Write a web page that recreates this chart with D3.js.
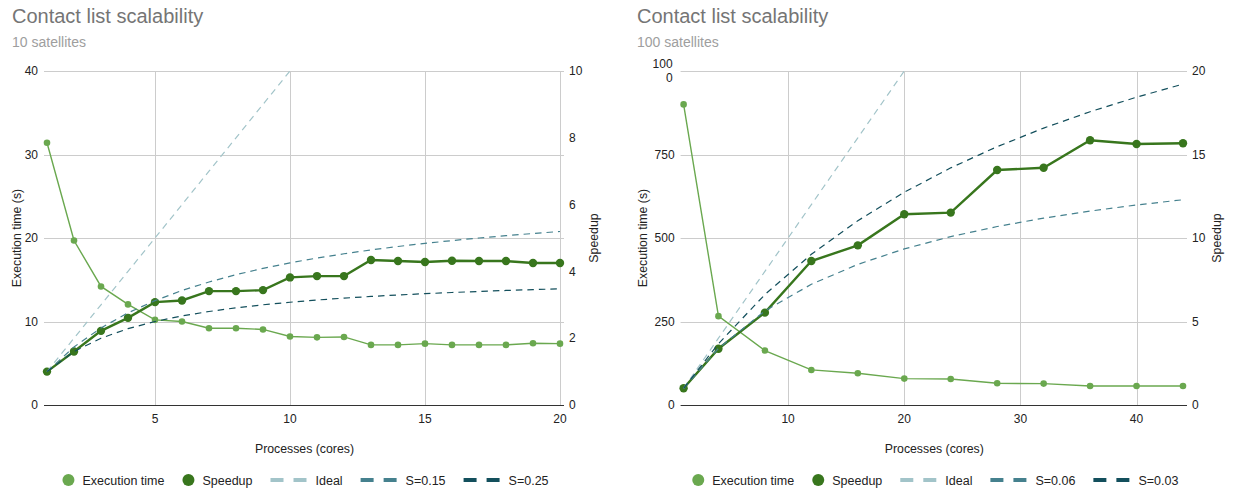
<!DOCTYPE html>
<html>
<head>
<meta charset="utf-8">
<script src="https://cdn.jsdelivr.net/npm/d3@7"></script>
<style>
  html, body { margin: 0; padding: 0; background: #fff; }
  svg { display: block; font-family: Arial, "Liberation Sans", sans-serif; }
</style>
</head>
<body>
<svg id="chart" width="1233" height="489"></svg>
<script>
// ---- 10 satellites ----
const procsA = [1,2,3,4,5,6,7,8,9,10,11,12,13,14,15,16,17,18,19,20];
const execA = [31.4,19.7,14.2,12.05,10.2,10.0,9.2,9.2,9.05,8.2,8.1,8.15,7.2,7.2,7.35,7.2,7.2,7.2,7.4,7.35];
const speedA = [1.0,1.6,2.22,2.61,3.08,3.13,3.41,3.41,3.44,3.82,3.86,3.86,4.34,4.31,4.28,4.32,4.31,4.31,4.25,4.25];
const idealA = [1,2,3,4,5,6,7,8,9,10,11,12,13,14,15,16,17,18,19,20];
const s015A = [1.0,1.739,2.308,2.759,3.125,3.429,3.684,3.902,4.091,4.255,4.4,4.528,4.643,4.746,4.839,4.923,5.0,5.07,5.135,5.195];
const s025A = [1.0,1.6,2.0,2.286,2.5,2.667,2.8,2.909,3.0,3.077,3.143,3.2,3.25,3.294,3.333,3.368,3.4,3.429,3.455,3.478];
const xTicksA = [5,10,15,20];
const yTicksA = [0,10,20,30,40];
const y2TicksA = [0,2,4,6,8,10];

// ---- 100 satellites ----
const procsB = [1,4,8,12,16,20,24,28,32,36,40,44];
const execB = [900,266,163,105,95,79,78,65,64,57,57,57];
const speedB = [1.0,3.37,5.53,8.62,9.56,11.42,11.52,14.07,14.21,15.85,15.63,15.67];
const idealB = [1,4,8,12,16,20,24,28,32,36,40,44];
const s006B = [1.0,3.39,5.634,7.229,8.421,9.346,10.084,10.687,11.189,11.613,11.976,12.291];
const s003B = [1.0,3.67,6.612,9.023,11.034,12.739,14.201,15.47,16.58,17.561,18.433,19.214];
const xTicksB = [10,20,30,40];
const yTicksB = [0,250,500,750,1000];
const y2TicksB = [0,5,10,15,20];

const COL = {
  exec: "#6aa84f",
  speed: "#38761d",
  ideal: "#a2c4c9",
  mid: "#45818e",
  dark: "#134f5c",
  grid: "#cccccc",
  base: "#333333",
  tick: "#222222",
  title: "#757575",
  sub: "#9e9e9e"
};

const svg = d3.select("#chart");

function panel(cfg) {
  const g = svg.append("g");
  const x = d3.scaleLinear().domain(cfg.xDomain).range(cfg.xRange);
  const y = d3.scaleLinear().domain(cfg.yDomain).range([405, 71]);
  const y2 = d3.scaleLinear().domain(cfg.y2Domain).range([405, 71]);
  const [x0, x1] = cfg.xRange;

  // titles
  g.append("text").attr("x", cfg.titleX).attr("y", 23)
    .attr("font-size", 20).attr("fill", COL.title).text("Contact list scalability");
  g.append("text").attr("x", cfg.titleX).attr("y", 47)
    .attr("font-size", 14).attr("fill", COL.sub).text(cfg.subtitle);

  // horizontal gridlines
  g.append("g").selectAll("line").data(cfg.yTicks.filter(d => d !== 0)).join("line")
    .attr("x1", x0 - 3).attr("x2", x1 + 4)
    .attr("y1", d => Math.round(y(d)) + 0.5).attr("y2", d => Math.round(y(d)) + 0.5)
    .attr("stroke", COL.grid).attr("stroke-width", 1);

  // vertical gridlines
  g.append("g").selectAll("line").data(cfg.xTicks).join("line")
    .attr("x1", d => Math.round(x(d)) + 0.5).attr("x2", d => Math.round(x(d)) + 0.5)
    .attr("y1", 71).attr("y2", 405)
    .attr("stroke", COL.grid).attr("stroke-width", 1);

  // baseline
  g.append("line").attr("x1", x0 - 3).attr("x2", x1 + 4)
    .attr("y1", 405.5).attr("y2", 405.5).attr("stroke", COL.base).attr("stroke-width", 1);

  // left tick labels
  const lt = g.append("g").attr("font-size", 12).attr("fill", COL.tick).attr("text-anchor", "end");
  cfg.yTicks.forEach(d => {
    const label = cfg.yFormat(d);
    if (cfg.wrapLong && label.length > 3) {
      const t = lt.append("text").attr("x", x0 - 11);
      t.append("tspan").attr("x", x0 - 11).attr("y", y(d) - 3).text(label.slice(0, 3));
      t.append("tspan").attr("x", x0 - 11).attr("y", y(d) + 11).text(label.slice(3));
    } else {
      lt.append("text").attr("x", x0 - 9).attr("y", y(d)).attr("dy", "0.35em").text(label);
    }
  });

  // right tick labels
  g.append("g").attr("font-size", 12).attr("fill", COL.tick)
    .selectAll("text").data(cfg.y2Ticks).join("text")
    .attr("x", x1 + 9).attr("y", d => y2(d)).attr("dy", "0.35em").text(d => d);

  // x tick labels
  g.append("g").attr("font-size", 12).attr("fill", COL.tick).attr("text-anchor", "middle")
    .selectAll("text").data(cfg.xTicks).join("text")
    .attr("x", d => x(d)).attr("y", 423).text(d => d);

  // axis titles
  g.append("text").attr("font-size", 12.3).attr("fill", COL.tick).attr("text-anchor", "middle")
    .attr("transform", `translate(${cfg.leftTitleX},238) rotate(-90)`).text("Execution time (s)");
  g.append("text").attr("font-size", 12.3).attr("fill", COL.tick).attr("text-anchor", "middle")
    .attr("transform", `translate(${x1 + 38},238) rotate(-90)`).text("Speedup");
  g.append("text").attr("font-size", 12.3).attr("fill", COL.tick).attr("text-anchor", "middle")
    .attr("x", (x0 + x1) / 2 + 1).attr("y", 453).text("Processes (cores)");

  // plot clip
  const clipId = "clip-" + cfg.id;
  svg.append("clipPath").attr("id", clipId).append("rect")
    .attr("x", x0 - 10).attr("y", 71).attr("width", x1 - x0 + 20).attr("height", 334);

  const plot = g.append("g").attr("clip-path", `url(#${clipId})`);
  const lineL = d3.line().x(d => x(d[0])).y(d => y(d[1]));
  const lineR = d3.line().x(d => x(d[0])).y(d => y2(d[1]));
  const zip = arr => cfg.procs.map((p, i) => [p, arr[i]]);

  // execution time
  plot.append("path").datum(zip(cfg.exec)).attr("d", lineL)
    .attr("fill", "none").attr("stroke", COL.exec).attr("stroke-width", 1.4);
  plot.append("g").selectAll("circle").data(zip(cfg.exec)).join("circle")
    .attr("cx", d => x(d[0])).attr("cy", d => y(d[1])).attr("r", 3.3).attr("fill", COL.exec);

  // speedup
  plot.append("path").datum(zip(cfg.speed)).attr("d", lineR)
    .attr("fill", "none").attr("stroke", COL.speed).attr("stroke-width", 2.4);
  plot.append("g").selectAll("circle").data(zip(cfg.speed)).join("circle")
    .attr("cx", d => x(d[0])).attr("cy", d => y2(d[1])).attr("r", 4.2).attr("fill", COL.speed);

  // reference curves
  cfg.refs.forEach(r => {
    plot.append("path").datum(zip(r.values)).attr("d", lineR)
      .attr("fill", "none").attr("stroke", r.color).attr("stroke-width", 1.2)
      .attr("stroke-dasharray", "6.5,5");
  });

  // legend
  const leg = g.append("g").attr("font-size", 12.5).attr("fill", COL.tick);
  let cx = 0;
  const items = [
    { type: "dot", color: COL.exec, label: "Execution time" },
    { type: "dot", color: COL.speed, label: "Speedup" },
    ...cfg.refs.map(r => ({ type: "dash", color: r.color, label: r.label }))
  ];
  items.forEach((it, i) => {
    const ig = leg.append("g");
    let tx;
    if (it.type === "dot") {
      ig.append("circle").attr("cx", cx + 6).attr("cy", 480).attr("r", 6).attr("fill", it.color);
      tx = cx + 20;
    } else {
      ig.append("rect").attr("x", cx).attr("y", 478).attr("width", 13).attr("height", 4).attr("fill", it.color);
      ig.append("rect").attr("x", cx + 23).attr("y", 478).attr("width", 13).attr("height", 4).attr("fill", it.color);
      tx = cx + 45;
    }
    const t = ig.append("text").attr("x", tx).attr("y", 484.5).text(it.label);
    const w = t.node().getComputedTextLength();
    cx = tx + w + 18;
  });
  const legW = cx - 18;
  leg.attr("transform", `translate(${(x0 + x1) / 2 + 2 - legW / 2},0)`);
}

panel({
  id: "a",
  titleX: 12,
  subtitle: "10 satellites",
  xDomain: [1, 20], xRange: [47, 560],
  yDomain: [0, 40], y2Domain: [0, 10],
  xTicks: xTicksA, yTicks: yTicksA, y2Ticks: y2TicksA,
  yFormat: d => String(d), wrapLong: false,
  leftTitleX: 21,
  procs: procsA, exec: execA, speed: speedA,
  refs: [
    { values: idealA, color: COL.ideal, label: "Ideal" },
    { values: s015A, color: COL.mid, label: "S=0.15" },
    { values: s025A, color: COL.dark, label: "S=0.25" }
  ]
});

panel({
  id: "b",
  titleX: 637,
  subtitle: "100 satellites",
  xDomain: [1, 44], xRange: [683.6, 1183],
  yDomain: [0, 1000], y2Domain: [0, 20],
  xTicks: xTicksB, yTicks: yTicksB, y2Ticks: y2TicksB,
  yFormat: d => String(d), wrapLong: true,
  leftTitleX: 647,
  procs: procsB, exec: execB, speed: speedB,
  refs: [
    { values: idealB, color: COL.ideal, label: "Ideal" },
    { values: s006B, color: COL.mid, label: "S=0.06" },
    { values: s003B, color: COL.dark, label: "S=0.03" }
  ]
});
</script>
</body>
</html>
